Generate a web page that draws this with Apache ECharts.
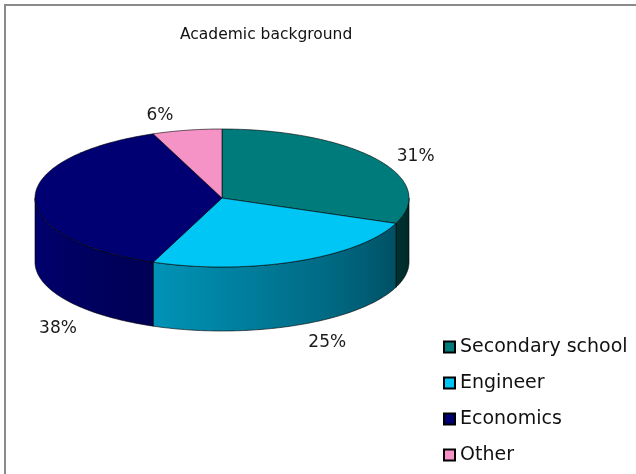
<!DOCTYPE html>
<html>
<head>
<meta charset="utf-8">
<script src="https://cdn.jsdelivr.net/npm/echarts@6/dist/echarts.min.js"></script>
<style>
  html, body { margin: 0; padding: 0; background: #ffffff; }
  #chart { width: 636px; height: 474px; }
</style>
</head>
<body>
<div id="chart"></div>
<script>
// Academic background of respondents (share in percent)
const categories = ['Secondary school', 'Engineer', 'Economics', 'Other'];
const shares = [31, 25, 38, 6];

// Palette for the slice tops; the walls are shaded from these
const palette = ['#007b7b', '#00c6f6', '#000072', '#f593c6'];

// Tilted-pie geometry (pixels)
const PIE = { cx: 222, cy: 198, rx: 187, ry: 69, depth: 64 };
// Label nudges from the slice's mid-angle rim point
const LABEL_NUDGE = [[39, -3], [31, 17], [23, 67], [-27, -15]];

const total = shares.reduce((s, v) => s + v, 0);
const starts = [];
shares.reduce((acc, v) => { starts.push(acc); return acc + v; }, 0);

// angle in degrees, clockwise from 12 o'clock
function rim(theta, dy) {
  const r = theta * Math.PI / 180;
  return [PIE.cx + PIE.rx * Math.sin(r), PIE.cy - PIE.ry * Math.cos(r) + dy];
}
function arc(a0, a1, dy) {
  const pts = [];
  const n = Math.max(2, Math.ceil(Math.abs(a1 - a0)));
  for (let k = 0; k <= n; k++) pts.push(rim(a0 + (a1 - a0) * k / n, dy));
  return pts;
}
function hexToRgb(h) {
  const v = parseInt(h.slice(1), 16);
  return [(v >> 16) & 255, (v >> 8) & 255, v & 255];
}
// Wall brightness: lit from the left, dark toward the right
function shade(hex, theta) {
  const b = Math.min(1, Math.max(0, 0.32 + 0.0038 * (theta - 90)));
  const c = hexToRgb(hex).map(x => Math.round(x * b));
  return 'rgb(' + c.join(',') + ')';
}

const EDGE = 'rgba(0,0,0,0.75)';

function makeRender(idx) {
  return function (params, api) {
    const start = api.value(0) / total * 360;
    const span = api.value(1) / total * 360;
    const end = start + span;
    const color = palette[idx];
    const children = [];

    // front wall, visible between 90 and 270 degrees
    const b0 = Math.max(start, 90), b1 = Math.min(end, 270);
    if (b1 > b0) {
      const topPts = arc(b0, b1, 0);
      const botPts = arc(b0, b1, PIE.depth).reverse();
      const xRight = rim(b0, 0)[0], xLeft = rim(b1, 0)[0];
      const stops = [];
      const n = 10;
      for (let k = 0; k <= n; k++) {
        const t = b1 - (b1 - b0) * k / n;
        const x = rim(t, 0)[0];
        stops.push({ offset: Math.min(1, Math.max(0, (x - xLeft) / (xRight - xLeft || 1))), color: shade(color, t) });
      }
      children.push({
        type: 'polygon',
        shape: { points: topPts.concat(botPts) },
        style: {
          fill: new echarts.graphic.LinearGradient(xLeft, 0, xRight, 0, stops, true),
          stroke: EDGE, lineWidth: 0.8
        }
      });
    }

    // top face
    children.push({
      type: 'polygon',
      shape: { points: [[PIE.cx, PIE.cy]].concat(arc(start, end, 0)) },
      style: { fill: color, stroke: EDGE, lineWidth: 0.8 }
    });

    // percentage label
    const mid = start + span / 2;
    const front = Math.cos(mid * Math.PI / 180) < 0;
    const anchor = rim(mid, front ? PIE.depth : 0);
    const nudge = LABEL_NUDGE[idx];
    children.push({
      type: 'text',
      x: anchor[0] + nudge[0],
      y: anchor[1] + nudge[1],
      style: {
        text: Math.round(api.value(1) / total * 100) + '%',
        fill: '#1a1a1a',
        font: '17px "DejaVu Sans"',
        align: 'center',
        verticalAlign: 'middle'
      }
    });

    return { type: 'group', children: children };
  };
}

const chart = echarts.init(document.getElementById('chart'), null, { renderer: 'canvas' });

chart.setOption({
  animation: false,
  backgroundColor: '#ffffff',
  color: palette,
  title: {
    text: 'Academic background',
    left: 175,
    top: 22,
    textStyle: { fontFamily: 'DejaVu Sans', fontSize: 15.5, fontWeight: 'normal', color: '#111' }
  },
  legend: {
    orient: 'vertical',
    left: 443,
    top: 337,
    padding: 0,
    icon: 'rect',
    itemWidth: 11,
    itemHeight: 11,
    itemGap: 16,
    selectedMode: false,
    itemStyle: { borderColor: '#000', borderWidth: 2 },
    textStyle: { fontFamily: 'DejaVu Sans', fontSize: 19, color: '#111', lineHeight: 20 },
    data: categories
  },
  graphic: [{
    type: 'polyline',
    silent: true,
    shape: { points: [[5, 474], [5, 5], [636, 5]] },
    style: { stroke: '#8a8a8a', lineWidth: 2, fill: null }
  }],
  series: categories.map((name, i) => ({
    type: 'custom',
    name: name,
    coordinateSystem: 'none',
    itemStyle: { color: palette[i] },
    renderItem: makeRender(i),
    data: [[starts[i], shares[i]]]
  }))
});
</script>
</body>
</html>
